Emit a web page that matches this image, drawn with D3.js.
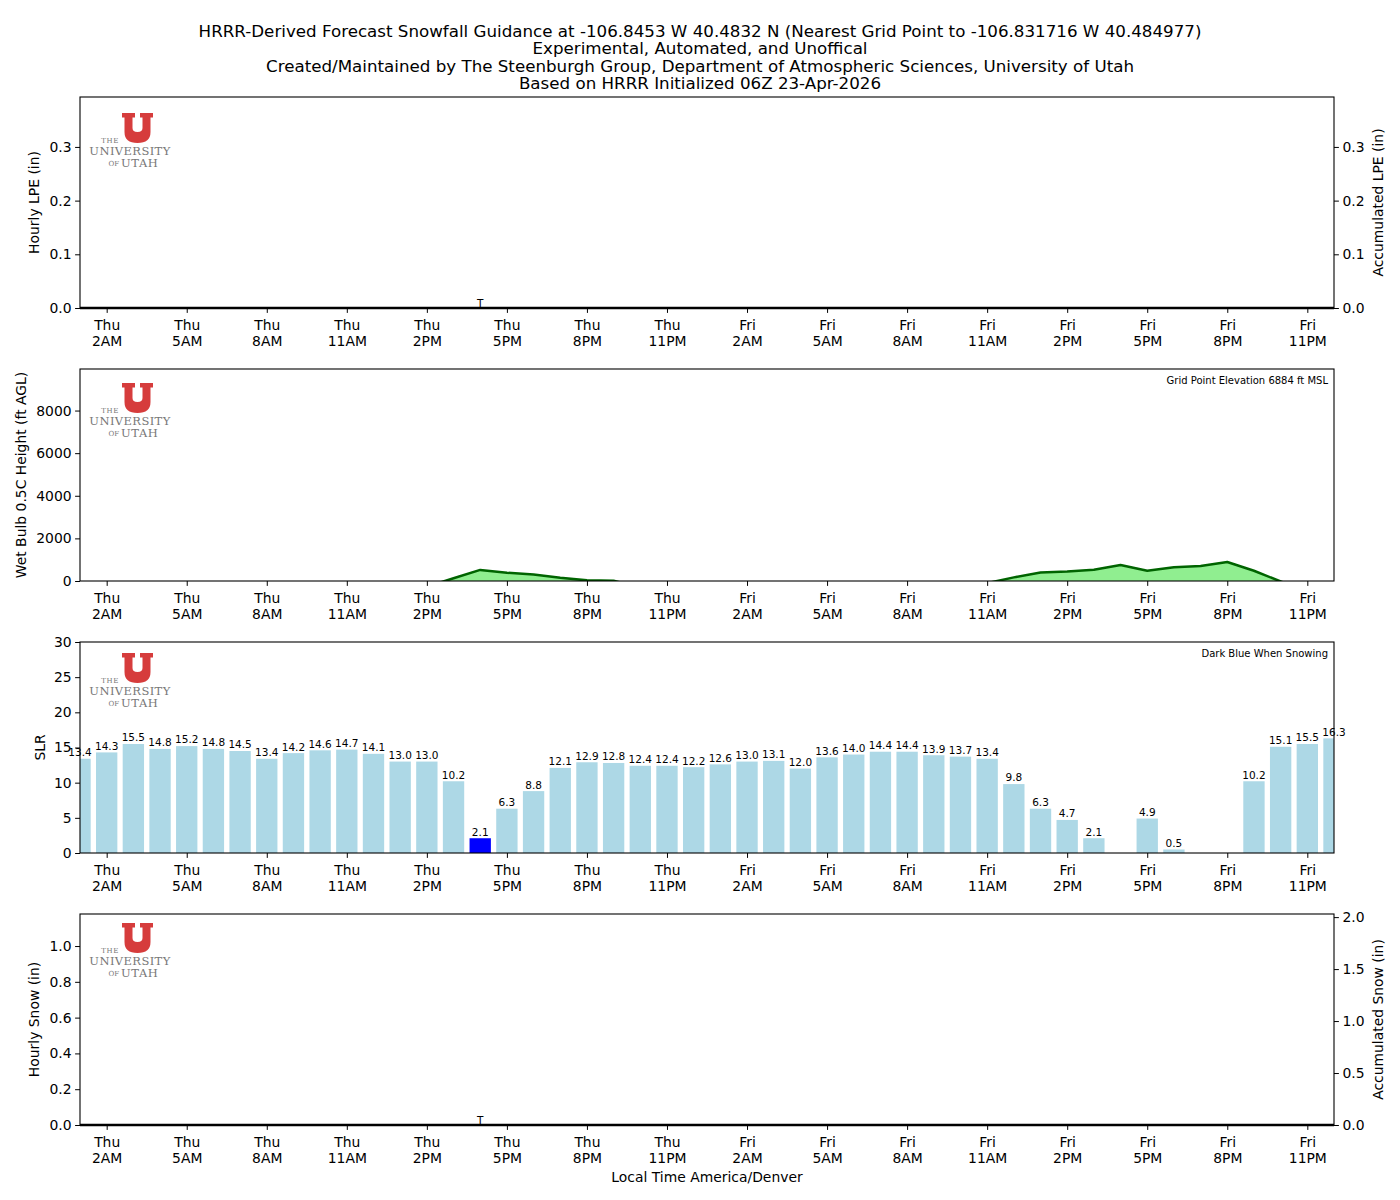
<!DOCTYPE html>
<html><head><meta charset="utf-8">
<script src="https://cdn.jsdelivr.net/npm/d3@7"></script>
<style>body{margin:0;background:#fff} text{font-family:"DejaVu Sans",sans-serif;fill:#000}</style>
</head><body><svg id="c" width="1400" height="1200"></svg>
<script>
// ---------------- DATA ----------------
const titleLines = [
  "HRRR-Derived Forecast Snowfall Guidance at -106.8453 W 40.4832 N (Nearest Grid Point to -106.831716 W 40.484977)",
  "Experimental, Automated, and Unoffical",
  "Created/Maintained by The Steenburgh Group, Department of Atmospheric Sciences, University of Utah",
  "Based on HRRR Initialized 06Z 23-Apr-2026"
];
// hour index 0 = Thu 1AM ... 47 = Sat 12AM
const tickIdx = [1,4,7,10,13,16,19,22,25,28,31,34,37,40,43,46];
const tickLabels = ["Thu\n2AM","Thu\n5AM","Thu\n8AM","Thu\n11AM","Thu\n2PM","Thu\n5PM","Thu\n8PM","Thu\n11PM",
                    "Fri\n2AM","Fri\n5AM","Fri\n8AM","Fri\n11AM","Fri\n2PM","Fri\n5PM","Fri\n8PM","Fri\n11PM"];
const hourlyLPE = Array.from({length:48},()=>0);
const accumLPE  = Array.from({length:48},()=>0);
const traceIdx = [15];
const wetBulb = [-1200,-1150,-1100,-1050,-1000,-950,-900,-800,-700,-600,-500,-450,-400,-270,
                 130,520,390,300,150,30,10,-300,
                 -500,-600,-700,-750,-800,-800,-750,-700,-600,-500,-400,-250,-100,
                 170,400,450,530,750,480,650,700,890,480,-20,-500,-800];
const slr = [13.4,14.3,15.5,14.8,15.2,14.8,14.5,13.4,14.2,14.6,14.7,14.1,13.0,13.0,10.2,2.1,6.3,8.8,12.1,12.9,12.8,12.4,12.4,
             12.2,12.6,13.0,13.1,12.0,13.6,14.0,14.4,14.4,13.9,13.7,13.4,9.8,6.3,4.7,2.1,null,4.9,0.5,null,null,10.2,15.1,15.5,16.3];
const snowing = slr.map((d,i)=> i===15);
const hourlySnow = Array.from({length:48},()=>0);
const accumSnow  = Array.from({length:48},()=>0);

// ---------------- LAYOUT ----------------
const svg = d3.select("#c");
const L = 80, R = 1334;
const x = d3.scaleLinear().domain([0,47]).range([L,R]);
const panels = [
  {top:97, bot:308, ymax:0.393, ticks:[0,0.1,0.2,0.3], fmt:d3.format(".1f"), label:"Hourly LPE (in)", lx:39,
   right:{ymax:0.393, ticks:[0,0.1,0.2,0.3], label:"Accumulated LPE (in)"}, logo:113},
  {top:369, bot:581, ymax:9950, ticks:[0,2000,4000,6000,8000], fmt:d3.format("d"), label:"Wet Bulb 0.5C Height (ft AGL)", lx:26, logo:383,
   note:"Grid Point Elevation 6884 ft MSL"},
  {top:642, bot:853, ymax:30, ticks:[0,5,10,15,20,25,30], fmt:d3.format("d"), label:"SLR", lx:45, logo:653,
   note:"Dark Blue When Snowing"},
  {top:914, bot:1125, ymax:1.179, ticks:[0,0.2,0.4,0.6,0.8,1.0], fmt:d3.format(".1f"), label:"Hourly Snow (in)", lx:39,
   right:{ymax:2.03, ticks:[0,0.5,1.0,1.5,2.0], label:"Accumulated Snow (in)"}, logo:923}
];

// title
titleLines.forEach((t,i)=>{
  svg.append("text").attr("x",700).attr("y",37+i*17.4).attr("text-anchor","middle")
    .style("font-size","16.7px").text(t);
});

function logo(g, top){
  const lg = g.append("g").attr("transform",`translate(122,${top})`);
  lg.append("path").attr("fill","#d63c3c")
    .attr("d","M0,0 H13 V4.5 H10.5 V15 Q10.5,19 15.5,19 Q20.5,19 20.5,15 V4.5 H18 V0 H31 V4.5 H28.5 V19 Q28.5,30 15.5,30 Q2.5,30 2.5,19 V4.5 H0 Z");
  const tf = "'DejaVu Serif','Liberation Serif',serif";
  lg.append("text").attr("x",-3).attr("y",30).attr("text-anchor","end")
    .style("font-family",tf).style("font-size","7px").style("fill","#777").style("letter-spacing","0.6px").text("THE");
  lg.append("text").attr("x",8).attr("y",42).attr("text-anchor","middle")
    .style("font-family",tf).style("font-size","11.5px").style("fill","#777").style("letter-spacing","0.4px").text("UNIVERSITY");
  lg.append("text").attr("x",-3).attr("y",53).attr("text-anchor","end")
    .style("font-family",tf).style("font-size","7px").style("fill","#777").text("OF");
  lg.append("text").attr("x",-1).attr("y",54).attr("text-anchor","start")
    .style("font-family",tf).style("font-size","11.5px").style("fill","#777").style("letter-spacing","0.6px").text("UTAH");
}

panels.forEach((p,pi)=>{
  const g = svg.append("g");
  const y = d3.scaleLinear().domain([0,p.ymax]).range([p.bot,p.top]);
  const cid = "clip"+pi;
  svg.append("clipPath").attr("id",cid).append("rect").attr("x",L).attr("y",p.top).attr("width",R-L).attr("height",p.bot-p.top);
  const plot = g.append("g").attr("clip-path",`url(#${cid})`);

  logo(g, p.logo);

  let zeroLine = null;
  if(pi===0 || pi===3){
    const hv = pi===0 ? hourlyLPE : hourlySnow;
    const av = pi===0 ? accumLPE : accumSnow;
    const yr = d3.scaleLinear().domain([0,p.right.ymax]).range([p.bot,p.top]);
    plot.selectAll("rect.h").data(hv).join("rect").attr("x",(d,i)=>x(i)-10.6).attr("width",21.3)
      .attr("y",d=>y(d)).attr("height",d=>p.bot-y(d)).attr("fill","#add8e6");
    zeroLine = {data:av, yr};
    traceIdx.forEach(i=>{
      g.append("text").attr("x",x(i)).attr("y",y(hv[i])-1.5).attr("text-anchor","middle")
        .style("font-size","10.5px").style("fill","#000").text("T");
    });
    const ra = g.append("g").attr("transform",`translate(${R},0)`)
      .call(d3.axisRight(yr).tickValues(p.right.ticks).tickFormat(d3.format(".1f")).tickSize(4.9).tickPadding(3.5));
    ra.select(".domain").remove();
    ra.selectAll("text").style("font-size","13.9px").style("font-family","DejaVu Sans");
    g.append("text").attr("transform",`translate(1383,${(p.top+p.bot)/2}) rotate(-90)`).attr("text-anchor","middle")
      .style("font-size","13.9px").text(p.right.label);
  }
  if(pi===1){
    const area = d3.area().x((d,i)=>x(i)).y0(y(0)).y1(d=>y(d));
    plot.append("path").datum(wetBulb).attr("fill","#90ee90").attr("d",area);
    plot.append("path").datum(wetBulb).attr("fill","none").attr("stroke","#006400").attr("stroke-width",2.5)
      .attr("stroke-linejoin","round").attr("d",d3.line().x((d,i)=>x(i)).y(d=>y(d)));
  }
  if(pi===2){
    const bw = 0.8*(x(1)-x(0));
    const vals = slr.map((v,i)=>({v,i})).filter(d=>d.v!==null);
    plot.selectAll("rect.b").data(vals).join("rect").attr("x",d=>x(d.i)-bw/2).attr("width",bw)
      .attr("y",d=>y(d.v)).attr("height",d=>p.bot-y(d.v)).attr("fill",d=>snowing[d.i]?"#0000ff":"#add8e6");
    g.selectAll("text.bl").data(vals).join("text").attr("x",d=>x(d.i)).attr("y",d=>y(d.v)-2.6)
      .attr("text-anchor","middle").style("font-size","10.5px").text(d=>d.v.toFixed(1));
  }
  if(p.note){
    g.append("text").attr("x",R-6).attr("y",p.top+15).attr("text-anchor","end").style("font-size","10px").text(p.note);
  }

  // frame
  g.append("rect").attr("x",L).attr("y",p.top).attr("width",R-L).attr("height",p.bot-p.top)
    .attr("fill","none").attr("stroke","#000").attr("stroke-width",1.1);

  if(zeroLine){
    g.append("path").datum(zeroLine.data).attr("fill","none").attr("stroke","#000").attr("stroke-width",2.6)
      .attr("d",d3.line().x((d,i)=>x(i)).y(d=>zeroLine.yr(d)));
  }

  // left axis
  const la = g.append("g").attr("transform",`translate(${L},0)`)
    .call(d3.axisLeft(y).tickValues(p.ticks).tickFormat(p.fmt).tickSize(4.9).tickPadding(3.5));
  la.select(".domain").remove();
  la.selectAll("text").style("font-size","13.9px").style("font-family","DejaVu Sans");
  g.append("text").attr("transform",`translate(${p.lx},${(p.top+p.bot)/2}) rotate(-90)`).attr("text-anchor","middle")
    .style("font-size","13.9px").text(p.label);

  // bottom axis
  const ba = g.append("g").attr("transform",`translate(0,${p.bot})`)
    .call(d3.axisBottom(x).tickValues(tickIdx).tickFormat((d,i)=>"").tickSize(4.9).tickPadding(3.5));
  ba.select(".domain").remove();
  ba.selectAll(".tick text").each(function(d,i){
    const t = d3.select(this).text(null).attr("dy",null).attr("y",null);
    tickLabels[i].split("\n").forEach((s,k)=>{
      t.append("tspan").attr("x",0).attr("y",22+k*16).text(s);
    });
  }).style("font-size","13.9px").style("font-family","DejaVu Sans");
});

svg.append("text").attr("x",707).attr("y",1182).attr("text-anchor","middle").style("font-size","13.9px").text("Local Time America/Denver");
</script></body></html>
